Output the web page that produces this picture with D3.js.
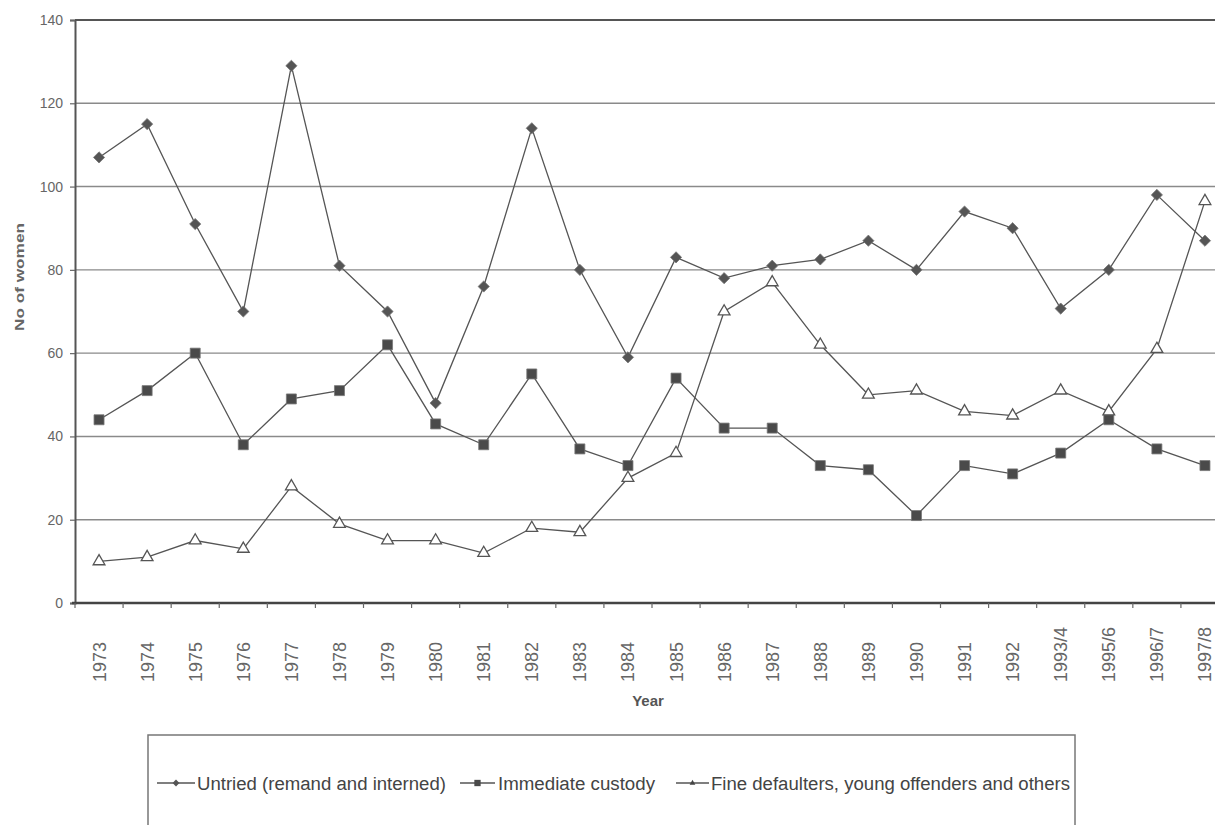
<!DOCTYPE html>
<html>
<head>
<meta charset="utf-8">
<script src="https://cdn.jsdelivr.net/npm/d3@7"></script>
<style>
  body { margin: 0; background: #fff; }
  text { font-family: "Liberation Sans", Arial, sans-serif; }
</style>
</head>
<body>
<svg id="chart" width="1215" height="825"></svg>
<script>
// data
const years = ["1973","1974","1975","1976","1977","1978","1979","1980","1981","1982","1983","1984",
               "1985","1986","1987","1988","1989","1990","1991","1992","1993/4","1995/6","1996/7","1997/8"];
const untried = [107,115,91,70,129,81,70,48,76,114,80,59,83,78,81,82.5,87,80,94,90,70.7,80,98,87];
const custody = [44,51,60,38,49,51,62,43,38,55,37,33,54,42,42,33,32,21,33,31,36,44,37,33];
const fines   = [10,11,15,13,28,19,15,15,12,18,17,30,36,70,77,62,50,51,46,45,51,46,61,96.5];
const yTicks = [0,20,40,60,80,100,120,140];
const seriesNames = ["Untried (remand and interned)", "Immediate custody", "Fine defaulters, young offenders and others"];

const svg = d3.select("#chart");
const margin = {left: 75, top: 20};
const plotW = 1154, plotH = 583;
const lineCol = "#555";

const x = d3.scaleBand().domain(years).range([margin.left, margin.left + plotW]);
const y = d3.scaleLinear().domain([0, 140]).range([margin.top + plotH, margin.top]);

// grid lines
svg.append("g")
  .selectAll("line")
  .data(yTicks.filter(d => d > 0))
  .join("line")
    .attr("x1", margin.left).attr("x2", 1215)
    .attr("y1", d => y(d)).attr("y2", d => y(d))
    .attr("stroke", d => d == 140 ? "#555" : "#8a8a8a")
    .attr("stroke-width", d => d == 140 ? 2 : 1.4);

// y axis
const yAxis = svg.append("g")
  .attr("transform", `translate(${margin.left},0)`)
  .call(d3.axisLeft(y).tickValues(yTicks).tickSize(5).tickPadding(7));
yAxis.select(".domain").attr("stroke", "#555").attr("stroke-width", 2);
yAxis.selectAll(".tick line").attr("stroke", "#666").attr("stroke-width", 1.2);
yAxis.selectAll(".tick text").attr("fill", "#666").attr("font-size", 14)
  .attr("font-family", "Liberation Sans, Arial, sans-serif");

// x axis with ticks on category boundaries
const xAxis = svg.append("g").attr("transform", `translate(0,${y(0)})`);
xAxis.append("line")
  .attr("x1", margin.left - 3).attr("x2", 1215)
  .attr("y1", 0).attr("y2", 0)
  .attr("stroke", "#444").attr("stroke-width", 2.5);
xAxis.selectAll(".xt")
  .data(years)
  .join("line")
    .attr("class", "xt")
    .attr("x1", d => x(d)).attr("x2", d => x(d))
    .attr("y1", 0).attr("y2", 5)
    .attr("stroke", "#666").attr("stroke-width", 1.2);
xAxis.selectAll(".xl")
  .data(years)
  .join("text")
    .attr("class", "xl")
    .attr("transform", d => `translate(${x(d) + x.bandwidth() / 2 + 6.5},79) rotate(-90)`)
    .attr("text-anchor", "start")
    .attr("font-size", 18)
    .attr("fill", "#666")
    .text(d => d);

// axis titles
svg.append("text")
  .attr("transform", "translate(24,277) rotate(-90)")
  .attr("text-anchor", "middle")
  .attr("font-size", 13).attr("font-weight", "bold").attr("fill", "#666")
  .attr("textLength", 108).attr("lengthAdjust", "spacingAndGlyphs")
  .text("No of women");
svg.append("text")
  .attr("x", 648).attr("y", 706)
  .attr("text-anchor", "middle")
  .attr("font-size", 15).attr("font-weight", "bold").attr("fill", "#555")
  .text("Year");

// series
const series = [
  {name: seriesNames[0], values: untried, shape: d3.symbolDiamond2 || d3.symbolDiamond, size: 80, fill: "#555"},
  {name: seriesNames[1], values: custody, shape: d3.symbolSquare, size: 100, fill: "#4a4a4a"},
  {name: seriesNames[2], values: fines, shape: d3.symbolTriangle, size: 60, fill: "#fff"}
];

const line = d3.line()
  .x((d, i) => x(years[i]) + x.bandwidth() / 2)
  .y(d => y(d));

series.forEach(s => {
  svg.append("path")
    .datum(s.values)
    .attr("fill", "none")
    .attr("stroke", lineCol)
    .attr("stroke-width", 1.3)
    .attr("d", line);
  svg.append("g")
    .selectAll("path")
    .data(s.values)
    .join("path")
      .attr("transform", (d, i) => `translate(${x(years[i]) + x.bandwidth() / 2},${y(d)})`)
      .attr("d", d3.symbol().type(s.shape).size(s.size))
      .attr("fill", s.fill)
      .attr("stroke", s.fill == "#fff" ? "#555" : "#777")
      .attr("stroke-width", s.fill == "#fff" ? 1.3 : 0.8);
});

// legend
const legend = svg.append("g");
legend.append("rect")
  .attr("x", 148).attr("y", 735).attr("width", 927).attr("height", 120)
  .attr("fill", "none").attr("stroke", "#777").attr("stroke-width", 1.5);

const legendItems = [
  {x0: 157, x1: 195, tx: 197, tw: 249},
  {x0: 460, x1: 495, tx: 498, tw: 157},
  {x0: 676, x1: 709, tx: 711, tw: 359}
];
const legendSize = [30, 40, 14];
legendItems.forEach((it, i) => {
  const s = series[i];
  legend.append("line")
    .attr("x1", it.x0).attr("x2", it.x1)
    .attr("y1", 783).attr("y2", 783)
    .attr("stroke", lineCol).attr("stroke-width", 1.3);
  legend.append("path")
    .attr("transform", `translate(${(it.x0 + it.x1) / 2},783)`)
    .attr("d", d3.symbol().type(s.shape).size(legendSize[i]))
    .attr("fill", i == 2 ? "#444" : s.fill);
  legend.append("text")
    .attr("x", it.tx).attr("y", 790)
    .attr("font-size", 18).attr("fill", "#444")
    .attr("textLength", it.tw).attr("lengthAdjust", "spacingAndGlyphs")
    .text(s.name);
});
</script>
</body>
</html>
